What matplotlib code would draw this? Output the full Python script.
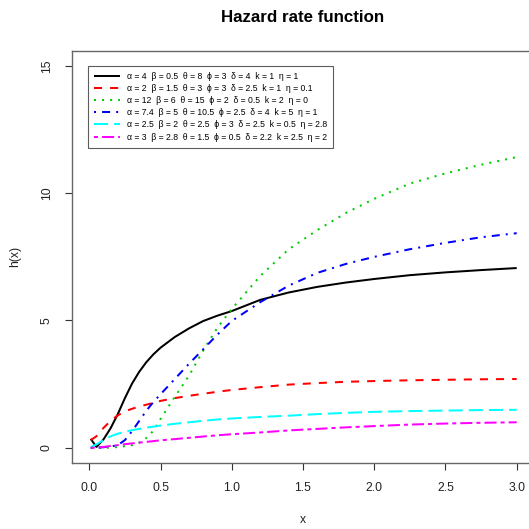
import matplotlib
matplotlib.use("Agg")
import matplotlib.pyplot as plt

plt.rcParams['font.family'] = ['Liberation Sans', 'DejaVu Sans']

x = [0.01, 0.05, 0.1, 0.15, 0.2, 0.25, 0.3, 0.35, 0.4, 0.45, 0.5, 0.6, 0.7, 0.8,
     0.9, 1.0, 1.2, 1.4, 1.6, 1.8, 2.0, 2.25, 2.5, 2.75, 3.0]

h_black = [0.35, 0.03, 0.33, 0.77, 1.32, 1.95, 2.52, 2.98, 3.36, 3.67, 3.93, 4.35,
           4.69, 4.98, 5.19, 5.37, 5.81, 6.10, 6.32, 6.49, 6.63, 6.78, 6.89, 6.98, 7.06]
h_red = [0.30, 0.45, 0.78, 1.06, 1.27, 1.43, 1.53, 1.62, 1.69, 1.76, 1.84, 1.95,
         2.04, 2.12, 2.20, 2.27, 2.38, 2.48, 2.54, 2.59, 2.62, 2.65, 2.67, 2.69, 2.70]
h_green = [0.0, 0.0, 0.0, 0.0, 0.03, 0.06, 0.10, 0.20, 0.38, 0.67, 1.13, 2.00,
           2.83, 3.83, 4.72, 5.45, 6.75, 7.80, 8.55, 9.22, 9.78, 10.38, 10.78, 11.12, 11.42]
h_blue = [0.0, 0.0, 0.02, 0.05, 0.10, 0.30, 0.65, 1.05, 1.45, 1.80, 2.10, 2.70,
          3.30, 3.87, 4.45, 4.98, 5.72, 6.37, 6.87, 7.22, 7.50, 7.80, 8.05, 8.27, 8.43]
h_cyan = [0.02, 0.13, 0.30, 0.45, 0.55, 0.63, 0.69, 0.74, 0.79, 0.83, 0.87, 0.94,
          1.00, 1.06, 1.11, 1.15, 1.21, 1.26, 1.32, 1.37, 1.41, 1.44, 1.46, 1.48, 1.49]
h_magenta = [0.0, 0.0, 0.03, 0.07, 0.10, 0.14, 0.17, 0.20, 0.23, 0.26, 0.29, 0.34,
             0.39, 0.44, 0.49, 0.53, 0.60, 0.68, 0.74, 0.80, 0.85, 0.91, 0.95, 0.98, 1.00]

labels = [
    "α = 4  β = 0.5  θ = 8  ϕ = 3  δ = 4  k = 1  η = 1",
    "α = 2  β = 1.5  θ = 3  ϕ = 3  δ = 2.5  k = 1  η = 0.1",
    "α = 12  β = 6  θ = 15  ϕ = 2  δ = 0.5  k = 2  η = 0",
    "α = 7.4  β = 5  θ = 10.5  ϕ = 2.5  δ = 4  k = 5  η = 1",
    "α = 2.5  β = 2  θ = 2.5  ϕ = 3  δ = 2.5  k = 0.5  η = 2.8",
    "α = 3  β = 2.8  θ = 1.5  ϕ = 0.5  δ = 2.2  k = 2.5  η = 2",
]
series = [h_black, h_red, h_green, h_blue, h_cyan, h_magenta]
colors = ["black", "#FF0000", "#00CD00", "#0000FF", "#00FFFF", "#FF00FF"]
dashes = [None, (4, 4), (1, 3), (1, 3, 4, 3), (7, 3), (2, 2, 6, 2)]

x_ticks = [0.0, 0.5, 1.0, 1.5, 2.0, 2.5, 3.0]
x_ticklabels = ["0.0", "0.5", "1.0", "1.5", "2.0", "2.5", "3.0"]
y_ticks = [0, 5, 10, 15]

W = H = 529
fig = plt.figure(figsize=(W / 100, H / 100), dpi=100)
left, right, top, bottom = 72.2, 533.8, 50.7, 463.0
ax = fig.add_axes([left / W, 1 - bottom / H, (right - left) / W, (bottom - top) / H])

for h, c, d, lab in zip(series, colors, dashes, labels):
    line, = ax.plot(x, h, color=c, lw=1.45, label=lab, solid_capstyle='butt',
                    dash_capstyle='butt')
    if d is not None:
        line.set_dashes(d)

ax.set_xlim(-0.12, 3.12)
ax.set_ylim(-0.6, 15.6)
ax.set_xticks(x_ticks)
ax.set_xticklabels(x_ticklabels)
ax.set_yticks(y_ticks)
ax.set_yticklabels([str(v) for v in y_ticks], rotation=90, va='center')
ax.tick_params(axis='both', direction='out', length=5, width=0.8, labelsize=8.7,
               colors='#333333', labelcolor='#222222')
ax.tick_params(axis='x', pad=9)
ax.tick_params(axis='y', pad=9)
for s in ax.spines.values():
    s.set_color('#666666')
    s.set_linewidth(1.0)

fig.text(0.5 * (left + right) / W, 1 - 18 / H, "Hazard rate function",
         ha='center', va='center', fontsize=12.2, fontweight='bold')
fig.text(0.5 * (left + right) / W, 1 - 520 / H, "x", ha='center', va='center',
         fontsize=8.7, color='#222222')
fig.text(15 / W, 1 - 0.5 * (top + bottom) / H, "h(x)", ha='center', va='center',
         rotation=90, fontsize=8.7, color='#222222')

leg = ax.legend(loc='upper left',
                bbox_to_anchor=((88 - left) / (right - left), 1 - (66 - top) / (bottom - top)),
                borderaxespad=0, fontsize=6.2, frameon=True, fancybox=False,
                handlelength=3.0, handletextpad=0.8, labelspacing=0.36,
                borderpad=0.7)
leg.get_frame().set_edgecolor('#333333')
leg.get_frame().set_linewidth(0.8)

fig.savefig("out.png", dpi=100)
